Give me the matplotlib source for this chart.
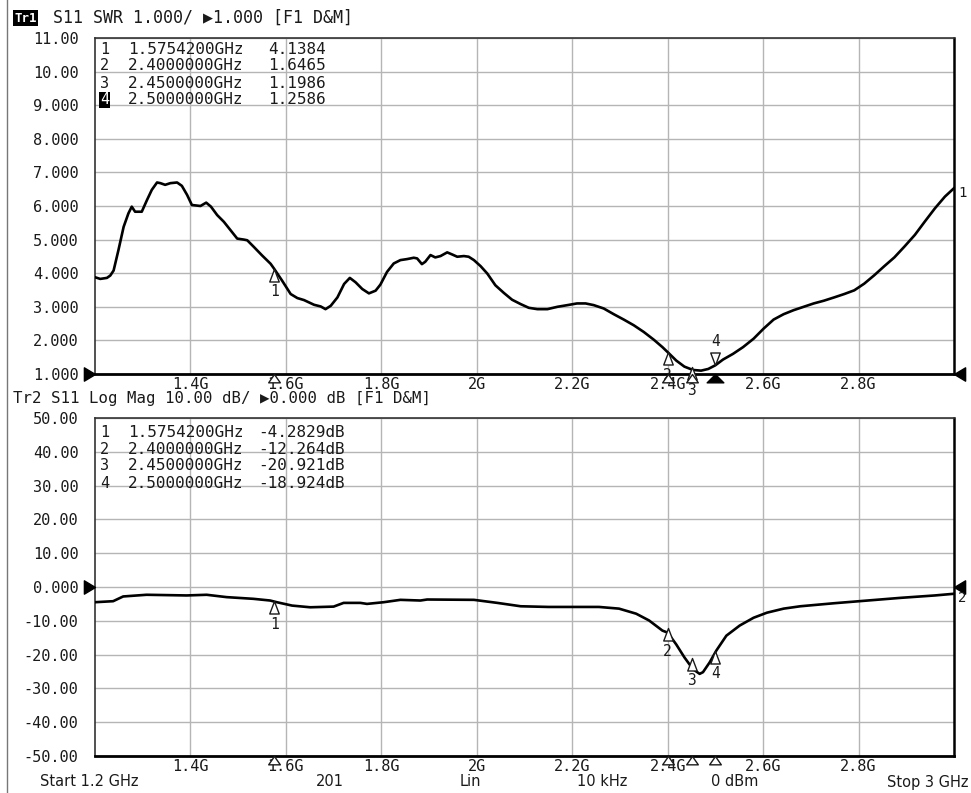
import matplotlib
matplotlib.use('Agg')
import matplotlib.pyplot as plt
from matplotlib.lines import Line2D
from matplotlib.path import Path

# ---- trace data ----
freq_swr = [1.200, 1.211, 1.225, 1.232, 1.239, 1.249, 1.260, 1.270, 1.277, 1.284,
            1.298, 1.309, 1.319, 1.330, 1.337, 1.347, 1.358, 1.372, 1.382, 1.393,
            1.403, 1.421, 1.433, 1.443, 1.456, 1.470, 1.484, 1.498, 1.512, 1.519,
            1.533, 1.550, 1.568, 1.575, 1.592, 1.610, 1.624, 1.638, 1.659, 1.673,
            1.683, 1.694, 1.708, 1.722, 1.734, 1.746, 1.760, 1.774, 1.788, 1.798,
            1.812, 1.826, 1.840, 1.854, 1.868, 1.875, 1.885, 1.892, 1.903, 1.913,
            1.924, 1.938, 1.948, 1.959, 1.973, 1.983, 1.994, 2.008, 2.022, 2.039,
            2.057, 2.074, 2.092, 2.109, 2.127, 2.148, 2.169, 2.190, 2.210, 2.228,
            2.245, 2.266, 2.287, 2.308, 2.329, 2.350, 2.371, 2.389, 2.400, 2.418,
            2.435, 2.453, 2.470, 2.485, 2.500, 2.516, 2.537, 2.558, 2.580, 2.601,
            2.622, 2.643, 2.664, 2.685, 2.706, 2.727, 2.749, 2.770, 2.791, 2.812,
            2.833, 2.854, 2.875, 2.896, 2.918, 2.939, 2.960, 2.981, 3.000]
swr = [3.88, 3.83, 3.86, 3.93, 4.08, 4.68, 5.38, 5.78, 5.98, 5.83,
       5.83, 6.18, 6.48, 6.70, 6.68, 6.63, 6.68, 6.70, 6.60, 6.33,
       6.03, 6.00, 6.10, 5.98, 5.73, 5.53, 5.28, 5.03, 5.00, 4.98,
       4.78, 4.53, 4.28, 4.14, 3.78, 3.38, 3.26, 3.20, 3.06, 3.01,
       2.93, 3.03, 3.28, 3.68, 3.86, 3.73, 3.53, 3.40, 3.48, 3.66,
       4.04, 4.29, 4.39, 4.42, 4.46, 4.44, 4.27, 4.34, 4.54, 4.47,
       4.51, 4.62, 4.56, 4.49, 4.51, 4.49, 4.39, 4.21, 3.99, 3.64,
       3.41, 3.21, 3.08, 2.97, 2.93, 2.93, 3.00, 3.05, 3.10, 3.10,
       3.05, 2.95, 2.78, 2.62, 2.45, 2.25, 2.02, 1.80, 1.65, 1.40,
       1.22, 1.12, 1.10, 1.15, 1.26, 1.43, 1.60, 1.80, 2.05, 2.35,
       2.62, 2.78, 2.90, 3.00, 3.10, 3.18, 3.28, 3.38, 3.49, 3.69,
       3.94, 4.21, 4.47, 4.79, 5.14, 5.54, 5.93, 6.28, 6.53]

freq_db = [1.200, 1.238, 1.259, 1.308, 1.392, 1.434, 1.476, 1.532, 1.567, 1.581,
           1.613, 1.651, 1.700, 1.721, 1.756, 1.770, 1.805, 1.840, 1.882, 1.896,
           1.994, 2.043, 2.092, 2.150, 2.200, 2.256, 2.298, 2.334, 2.361, 2.389,
           2.400, 2.418, 2.435, 2.453, 2.467, 2.474, 2.488, 2.502, 2.523, 2.551,
           2.580, 2.608, 2.643, 2.678, 2.749, 2.819, 2.889, 2.960, 3.000]
logmag = [-4.5, -4.2, -2.8, -2.3, -2.5, -2.3, -3.0, -3.5, -4.0, -4.5,
          -5.5, -6.0, -5.8, -4.7, -4.7, -5.0, -4.5, -3.8, -4.0, -3.7,
          -3.8, -4.7, -5.7, -5.9, -5.9, -5.9, -6.4, -7.9, -9.9, -12.9,
          -13.5, -17.0, -20.8, -24.3, -25.7, -25.2, -22.3, -18.8, -14.4, -11.4,
          -9.1, -7.6, -6.4, -5.7, -4.8, -4.0, -3.2, -2.5, -2.0]

# marker table
mk_freq = [1.57542, 2.4, 2.45, 2.5]
mk_freq_txt = ['1.5754200GHz', '2.4000000GHz', '2.4500000GHz', '2.5000000GHz']
mk_swr = [4.1384, 1.6465, 1.1986, 1.2586]
mk_swr_txt = ['4.1384', '1.6465', '1.1986', '1.2586']
mk_db = [-4.2829, -12.264, -20.921, -18.924]
mk_db_txt = ['-4.2829dB', '-12.264dB', '-20.921dB', '-18.924dB']

x_ticks = [1.4, 1.6, 1.8, 2.0, 2.2, 2.4, 2.6, 2.8]
x_ticklabels = ['1.4G', '1.6G', '1.8G', '2G', '2.2G', '2.4G', '2.6G', '2.8G']
swr_ticks = [11, 10, 9, 8, 7, 6, 5, 4, 3, 2, 1]
swr_ticklabels = ['11.00', '10.00', '9.000', '8.000', '7.000', '6.000',
                  '5.000', '4.000', '3.000', '2.000', '1.000']
db_ticks = [50, 40, 30, 20, 10, 0, -10, -20, -30, -40, -50]
db_ticklabels = ['50.00', '40.00', '30.00', '20.00', '10.00', '0.000',
                 '-10.00', '-20.00', '-30.00', '-40.00', '-50.00']
footer = ['Start 1.2 GHz', '201', 'Lin', '10 kHz', '0 dBm', 'Stop 3 GHz']

W, H = 971, 793
MONO = ['DejaVu Sans Mono', 'DejaVu Sans']
INK = '#1a1a1a'

# marker shapes, apex sitting on the data point
TRI_UP = Path([(0, 0), (-0.38, -1), (0.38, -1), (0, 0)],
              [Path.MOVETO, Path.LINETO, Path.LINETO, Path.CLOSEPOLY])
TRI_DOWN = Path([(0, 0), (-0.38, 1), (0.38, 1), (0, 0)],
                [Path.MOVETO, Path.LINETO, Path.LINETO, Path.CLOSEPOLY])
AXIS_TRI = Path([(0, 0), (-0.7, -1), (0.7, -1), (0, 0)],
                [Path.MOVETO, Path.LINETO, Path.LINETO, Path.CLOSEPOLY])
AXIS_TRI_WIDE = Path([(0, 0), (-1.0, -1), (1.0, -1), (0, 0)],
                     [Path.MOVETO, Path.LINETO, Path.LINETO, Path.CLOSEPOLY])
REF_RIGHT = Path([(0, 0), (-1, 0.6), (-1, -0.6), (0, 0)],
                 [Path.MOVETO, Path.LINETO, Path.LINETO, Path.CLOSEPOLY])
REF_LEFT = Path([(0, 0), (1, 0.6), (1, -0.6), (0, 0)],
                [Path.MOVETO, Path.LINETO, Path.LINETO, Path.CLOSEPOLY])


def fx(x):
    return x / W


def fy(y):
    return 1 - y / H


def setup_axes(ax, ylim, yticks, yticklabels):
    ax.set_xlim(1.2, 3.0)
    ax.set_ylim(*ylim)
    ax.set_xticks(x_ticks)
    ax.set_xticklabels(x_ticklabels, family=MONO, fontsize=11, color=INK)
    ax.set_yticks(yticks)
    ax.set_yticklabels(yticklabels, family=MONO, fontsize=11, color=INK)
    ax.tick_params(axis='both', length=0)
    ax.tick_params(axis='y', pad=12)
    ax.tick_params(axis='x', pad=2)
    ax.grid(True, color='#b5b5b5', lw=1.0)
    ax.set_axisbelow(True)
    for s in ax.spines.values():
        s.set_color('#333333')
        s.set_linewidth(1.2)
    ax.spines['bottom'].set_color('black')
    ax.spines['bottom'].set_linewidth(2.0)
    ax.spines['right'].set_color('black')
    ax.spines['right'].set_linewidth(1.8)


def draw_markers(ax, values, ybottom, active=None, flip=None):
    for i, (f, v) in enumerate(zip(mk_freq, values)):
        up = (i != flip)
        ax.plot([f], [v], marker=TRI_UP if up else TRI_DOWN, ms=18, mfc='white',
                mec=INK, mew=1.0, zorder=5, clip_on=False)
        ax.annotate(str(i + 1), (f, v), xytext=(0, -23 if up else 24),
                    textcoords='offset pixels', ha='center', va='center',
                    family=MONO, fontsize=10.5, color=INK, zorder=6)
        # marker flags below the frequency axis
        if i == active:
            ax.plot([f], [ybottom], marker=AXIS_TRI_WIDE, ms=12, mfc='black',
                    mec='black', mew=1.0, zorder=6, clip_on=False)
        else:
            ax.plot([f], [ybottom], marker=AXIS_TRI, ms=12, mfc='white',
                    mec=INK, mew=1.0, zorder=6, clip_on=False)


def ref_arrows(ax, yref):
    ax.plot([1.2], [yref], marker=REF_RIGHT, ms=16, color='black', zorder=7, clip_on=False)
    ax.plot([3.0], [yref], marker=REF_LEFT, ms=16, color='black', zorder=7, clip_on=False)


fig = plt.figure(figsize=(W / 100, H / 100), dpi=100)

# ---- Tr1: SWR ----
ax1 = fig.add_axes([fx(95), fy(374), fx(954) - fx(95), fy(38) - fy(374)])
setup_axes(ax1, (1, 11), swr_ticks, swr_ticklabels)
ax1.plot(freq_swr, swr, color='black', lw=1.9, zorder=4)
draw_markers(ax1, mk_swr, 1, active=3, flip=3)
ref_arrows(ax1, 1)

# ---- Tr2: Log Mag ----
ax2 = fig.add_axes([fx(95), fy(756), fx(954) - fx(95), fy(418) - fy(756)])
setup_axes(ax2, (-50, 50), db_ticks, db_ticklabels)
ax2.plot(freq_db, logmag, color='black', lw=1.9, zorder=4)
draw_markers(ax2, mk_db, -50)
ref_arrows(ax2, 0)

# marker tables
for i in range(4):
    y1 = 49 + i * 17
    y2 = 432 + i * 17
    if i == 3:
        fig.text(fx(100), fy(y1), '4', family=MONO, fontsize=11, color='white',
                 va='center', bbox=dict(facecolor='black', edgecolor='none', pad=0.5))
    else:
        fig.text(fx(100), fy(y1), str(i + 1), family=MONO, fontsize=11, color=INK, va='center')
    fig.text(fx(128), fy(y1), mk_freq_txt[i], family=MONO, fontsize=11.5, color=INK, va='center')
    fig.text(fx(268), fy(y1), mk_swr_txt[i], family=MONO, fontsize=11.5, color=INK, va='center')
    fig.text(fx(100), fy(y2), str(i + 1), family=MONO, fontsize=11, color=INK, va='center')
    fig.text(fx(128), fy(y2), mk_freq_txt[i], family=MONO, fontsize=11.5, color=INK, va='center')
    fig.text(fx(258), fy(y2), mk_db_txt[i], family=MONO, fontsize=11.5, color=INK, va='center')

# channel headers
fig.text(fx(14), fy(18), 'Tr1', family=MONO, fontsize=9, fontweight='bold', color='white',
         va='center', bbox=dict(facecolor='black', edgecolor='none', pad=1.0))
fig.text(fx(53), fy(18), 'S11 SWR 1.000/ \u25b61.000 [F1 D&M]', family=MONO,
         fontsize=12, color=INK, va='center')
fig.text(fx(13), fy(399), 'Tr2 S11 Log Mag 10.00 dB/ \u25b60.000 dB [F1 D&M]', family=MONO,
         fontsize=11.3, color=INK, va='center')

# trace end labels
fig.text(fx(958), fy(193), '1', family=MONO, fontsize=10, color=INK, va='center')
fig.text(fx(958), fy(598), '2', family=MONO, fontsize=10, color=INK, va='center')

# footer line
foot_x = [40, 330, 470, 602, 735, 968]
foot_ha = ['left', 'center', 'center', 'center', 'center', 'right']
for t, x, ha in zip(footer, foot_x, foot_ha):
    fig.text(fx(x), fy(782), t, family='DejaVu Sans', fontsize=10.5, color=INK,
             ha=ha, va='center')

# screen border on the left
fig.add_artist(Line2D([fx(7), fx(7)], [0, 1], color='#777777', lw=1.0))

fig.savefig('out.png', dpi=100, facecolor='white')
